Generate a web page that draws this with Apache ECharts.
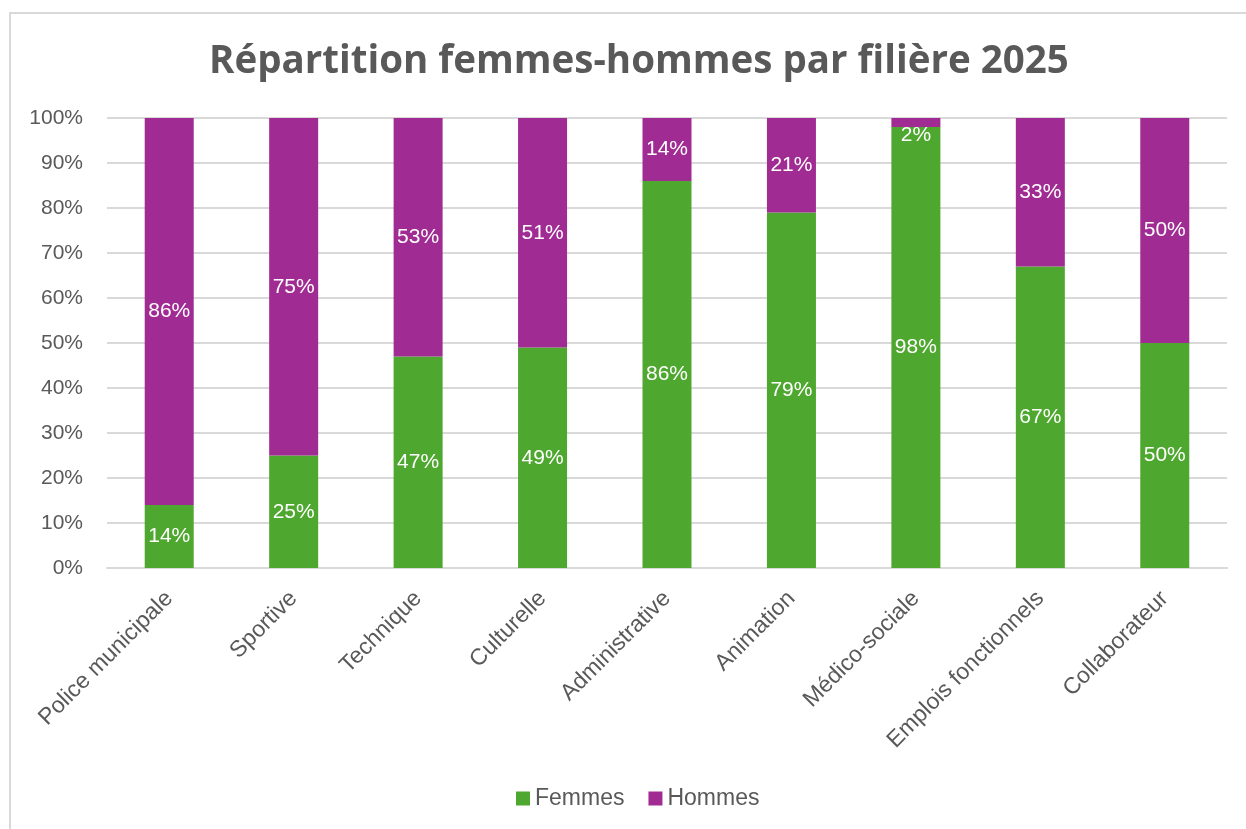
<!DOCTYPE html>
<html>
<head>
<meta charset="utf-8">
<script src="https://cdn.jsdelivr.net/npm/echarts@6/dist/echarts.min.js"></script>
<style>
  html, body { margin: 0; padding: 0; background: #fff; }
  .frame {
    position: absolute;
    left: 9px;
    top: 12px;
    width: 1300px;
    height: 900px;
    border-left: 2px solid #d9d9d9;
    border-top: 2px solid #d9d9d9;
  }
  #chart { position: absolute; left: 0; top: 0; width: 1246px; height: 829px; }
</style>
</head>
<body>
<div class="frame"></div>
<div id="chart"></div>
<script>
// filières
const categories = [
  'Police municipale', 'Sportive', 'Technique', 'Culturelle', 'Administrative',
  'Animation', 'Médico-sociale', 'Emplois fonctionnels', 'Collaborateur'
];
// parts en %
const femmes = [14, 25, 47, 49, 86, 79, 98, 67, 50];
const hommes = [86, 75, 53, 51, 14, 21, 2, 33, 50];

const FONT = '"Liberation Sans", Arial, sans-serif';
const TXT = '#595959';

const chart = echarts.init(document.getElementById('chart'));

// petits segments : étiquette collée en haut, comme dans Excel
const toData = (arr) => arr.map((v) => (v < 5 ? { value: v, label: { position: 'insideTop', distance: 7 } } : v));

const labelStyle = {
  show: true,
  position: 'inside',
  color: '#ffffff',
  fontFamily: FONT,
  fontSize: 21,
  formatter: (p) => p.value + '%'
};

chart.setOption({
  animation: false,
  title: {
    text: 'Répartition femmes-hommes par filière 2025',
    left: 204,
    top: 38,
    textStyle: { fontFamily: '"Open Sans", sans-serif', fontSize: 38.5, fontWeight: 'bold', color: TXT }
  },
  legend: {
    data: ['Femmes', 'Hommes'],
    bottom: 14,
    left: 511,
    icon: 'rect',
    itemWidth: 14,
    itemHeight: 14,
    itemGap: 24,
    textStyle: { fontFamily: FONT, fontSize: 23, color: TXT }
  },
  grid: { left: 107, right: 19, top: 118, bottom: 261, containLabel: false },
  xAxis: {
    type: 'category',
    data: categories,
    axisLine: { lineStyle: { color: '#d9d9d9', width: 2 } },
    axisTick: { show: false },
    axisLabel: {
      rotate: 45,
      margin: 27,
      interval: 0,
      fontFamily: FONT,
      fontSize: 23,
      color: TXT
    }
  },
  yAxis: {
    type: 'value',
    min: 0,
    max: 100,
    interval: 10,
    axisLine: { show: false },
    axisTick: { show: false },
    splitLine: { lineStyle: { color: '#d9d9d9', width: 2 } },
    axisLabel: {
      formatter: '{value}%',
      margin: 24,
      fontFamily: FONT,
      fontSize: 21,
      color: TXT
    }
  },
  series: [
    {
      name: 'Femmes',
      type: 'bar',
      stack: 'total',
      barWidth: 49,
      data: toData(femmes),
      itemStyle: { color: '#4ea72e' },
      label: labelStyle
    },
    {
      name: 'Hommes',
      type: 'bar',
      stack: 'total',
      barWidth: 49,
      data: toData(hommes),
      itemStyle: { color: '#a02b93' },
      label: labelStyle
    }
  ]
});
</script>
</body>
</html>
